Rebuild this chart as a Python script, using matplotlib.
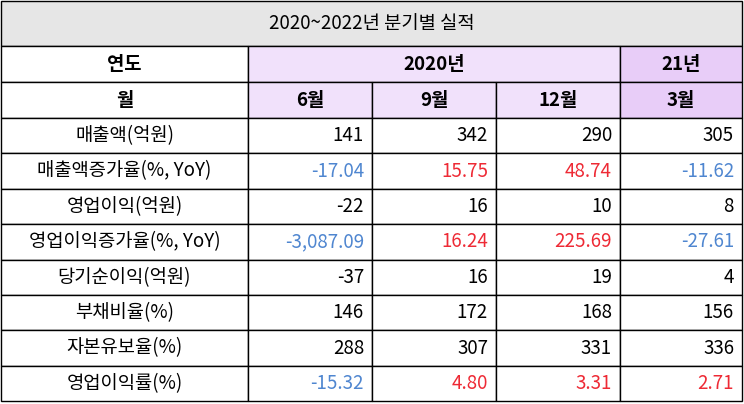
import matplotlib
matplotlib.use("Agg")
import matplotlib.pyplot as plt
from matplotlib.patches import Rectangle

plt.rcParams['font.family'] = ['Noto Sans CJK KR', 'DejaVu Sans']

title = "2020~2022년 분기별 실적"
years = ["2020년", "21년"]
months = ["6월", "9월", "12월", "3월"]
row_labels = ["매출액(억원)", "매출액증가율(%, YoY)", "영업이익(억원)", "영업이익증가율(%, YoY)",
              "당기순이익(억원)", "부채비율(%)", "자본유보율(%)", "영업이익률(%)"]
values = [
    ["141", "342", "290", "305"],
    ["-17.04", "15.75", "48.74", "-11.62"],
    ["-22", "16", "10", "8"],
    ["-3,087.09", "16.24", "225.69", "-27.61"],
    ["-37", "16", "19", "4"],
    ["146", "172", "168", "156"],
    ["288", "307", "331", "336"],
    ["-15.32", "4.80", "3.31", "2.71"],
]
colored_rows = [1, 3, 7]

BLUE = "#4f86d0"
RED = "#ee2a35"
PURPLE1 = "#f1e1fb"
PURPLE2 = "#e8cdf8"

W, H = 744, 404
fig = plt.figure(figsize=(W / 100, H / 100), dpi=100)
ax = fig.add_axes([0, 0, 1, 1])
ax.set_xlim(0, W)
ax.set_ylim(H, 0)
ax.axis("off")

xs = [1, 248, 372, 496, 620, 742]
ys = [46, 82, 118] + [118 + 35.4 * (i + 1) for i in range(8)]
fs = 13.5

def cell(x0, x1, y0, y1, fc="white", lw=1.0):
    ax.add_patch(Rectangle((x0, y0), x1 - x0, y1 - y0, facecolor=fc, edgecolor="black", lw=lw))

# title
cell(1, 742, 1, 46, fc="#e6e6e6")
ax.text(W / 2, 23, title, ha="center", va="center", fontsize=fs)

# header
cell(xs[0], xs[1], ys[0], ys[1])
ax.text((xs[0] + xs[1]) / 2, (ys[0] + ys[1]) / 2, "연도", ha="center", va="center", fontsize=fs, fontweight="bold")
cell(xs[1], xs[4], ys[0], ys[1], fc=PURPLE1)
ax.text((xs[1] + xs[4]) / 2, (ys[0] + ys[1]) / 2, years[0], ha="center", va="center", fontsize=fs, fontweight="bold")
cell(xs[4], xs[5], ys[0], ys[1], fc=PURPLE2)
ax.text((xs[4] + xs[5]) / 2, (ys[0] + ys[1]) / 2, years[1], ha="center", va="center", fontsize=fs, fontweight="bold")

cell(xs[0], xs[1], ys[1], ys[2])
ax.text((xs[0] + xs[1]) / 2, (ys[1] + ys[2]) / 2, "월", ha="center", va="center", fontsize=fs, fontweight="bold")
for j, m in enumerate(months):
    cell(xs[j + 1], xs[j + 2], ys[1], ys[2], fc=PURPLE2 if j == 3 else PURPLE1)
    ax.text((xs[j + 1] + xs[j + 2]) / 2, (ys[1] + ys[2]) / 2, m, ha="center", va="center", fontsize=fs, fontweight="bold")

# body
for i, lab in enumerate(row_labels):
    y0, y1 = ys[i + 2], ys[i + 3]
    yc = (y0 + y1) / 2
    cell(xs[0], xs[1], y0, y1)
    ax.text((xs[0] + xs[1]) / 2, yc, lab, ha="center", va="center", fontsize=fs)
    for j, v in enumerate(values[i]):
        cell(xs[j + 1], xs[j + 2], y0, y1)
        color = "black"
        if i in colored_rows:
            color = BLUE if v.startswith("-") else RED
        ax.text(xs[j + 2] - 8, yc, v, ha="right", va="center", fontsize=fs, color=color)

fig.savefig("out.png", dpi=100)
